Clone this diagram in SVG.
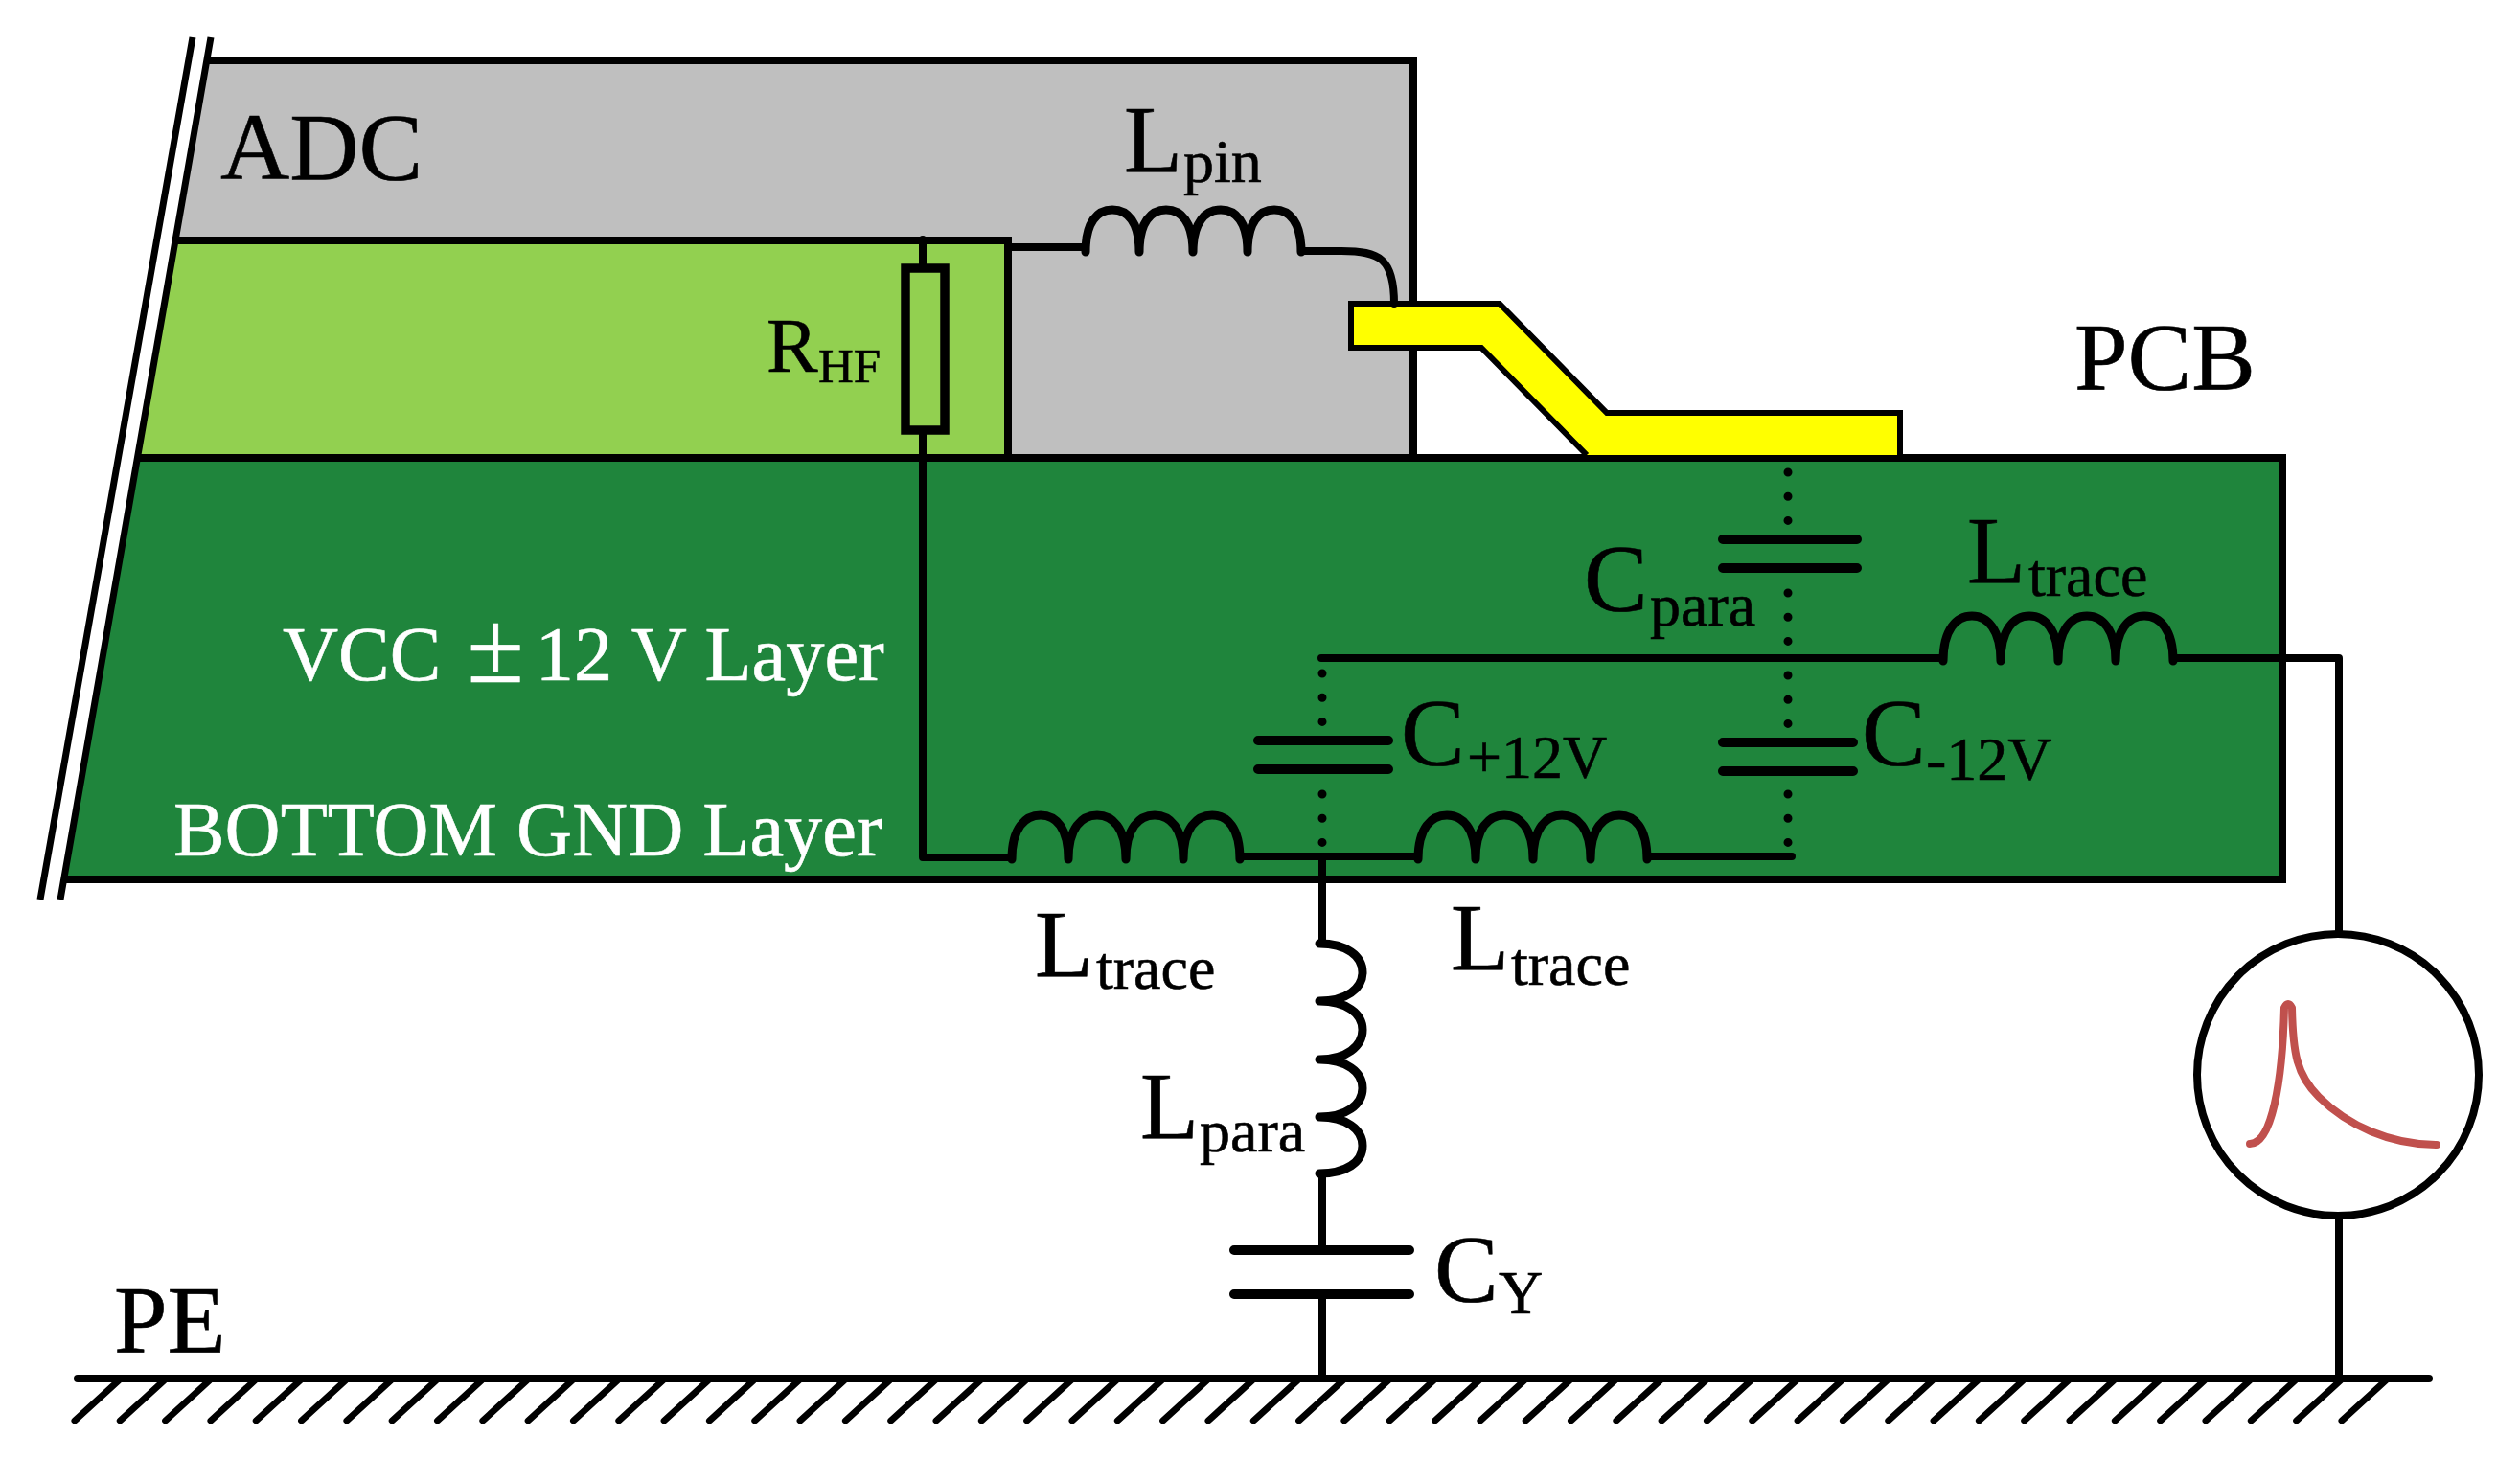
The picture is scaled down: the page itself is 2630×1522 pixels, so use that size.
<svg xmlns="http://www.w3.org/2000/svg" width="2630" height="1522" viewBox="0 0 2630 1522">
<style>
text{font-family:"Liberation Serif","Times New Roman",serif;fill:#000;stroke:#000;stroke-width:.6}
.big{font-size:100px}
.mid{font-size:80.4px}
.sub{font-size:64px}
.w{fill:#fff;stroke:#fff}
.ln{fill:none;stroke:#000;stroke-width:8;stroke-linecap:round;stroke-linejoin:round}
.coil{fill:none;stroke:#000;stroke-width:9;stroke-linecap:round;stroke-linejoin:round}
.plate{fill:none;stroke:#000;stroke-width:10;stroke-linecap:round}
.dot{fill:none;stroke:#000;stroke-width:9;stroke-linecap:round;stroke-dasharray:0 25.2}
.thin{fill:none;stroke:#000;stroke-width:7}
</style>
<rect width="2630" height="1522" fill="#fff"/>
<g id="adc-body">
<polygon points="216,63 1475,63 1475,478 143,478" fill="#BFBFBF"/>
<path d="M216 63H1475V478" fill="none" stroke="#000" stroke-width="8"/>
</g>
<g id="adc-die">
<polygon points="184,251 1052,251 1052,478 143,478" fill="#92D050"/>
<path d="M184 251H1052V478" fill="none" stroke="#000" stroke-width="8"/>
</g>
<g id="pcb">
<polygon points="143,478 2382,478 2382,918 67,918" fill="#1F853C"/>
<path d="M143 478H2382V918H67" fill="none" stroke="#000" stroke-width="8"/>
</g>
<g id="break-lines">
<path class="thin" d="M201 39L42 939M220 39L63 939"/>
</g>
<g id="pin">
<path d="M1656 475L1546 363H1410V317H1565L1677 431H1983V475Z" fill="#FFFF00"/>
<path d="M1656 475L1546 363H1410V317H1565L1677 431H1983V475" fill="none" stroke="#000" stroke-width="6"/>
</g>
<g id="connectors">
<path class="ln" d="M1052 258H1133M1358 262H1400C1440 262 1455 270 1455 317"/>
<path class="ln" d="M963 250V895H1056M1294 894H1480M1719 894H1870"/>
<path class="ln" d="M1379 687H2028M2268 687H2441V975"/>
<path class="ln" d="M1380 894V985M1380 1225V1305M1380 1351V1439M2441 1270V1439"/>
<path class="dot" d="M1866 493V560M1866 619V675M1866 705V760M1866 829V885"/>
<path class="dot" d="M1380 703V760M1380 829V885"/>
</g>
<g id="r-hf">
<rect x="945" y="280" width="41" height="169" fill="#92D050" stroke="#000" stroke-width="9.5"/>
</g>
<g id="l-pin">
<path class="coil" d="M1133 263C1133 232 1145 219 1161 219S1189 232 1189 263C1189 232 1201 219 1217 219S1245 232 1245 263C1245 232 1258 219 1274 219S1302 232 1302 263C1302 232 1314 219 1330 219S1358 232 1358 263"/>
</g>
<g id="l-trace-1">
<path class="coil" d="M1056 897C1056 864 1070 851 1086 851S1115 864 1115 897C1115 864 1129 851 1145 851S1175 864 1175 897C1175 864 1189 851 1205 851S1235 864 1235 897C1235 864 1249 851 1265 851S1294 864 1294 897"/>
</g>
<g id="l-trace-2">
<path class="coil" d="M1480 897C1480 864 1494 851 1510 851S1540 864 1540 897C1540 864 1554 851 1570 851S1600 864 1600 897C1600 864 1614 851 1630 851S1660 864 1660 897C1660 864 1674 851 1690 851S1719 864 1719 897"/>
</g>
<g id="l-trace-3">
<path class="coil" d="M2028 690C2028 657 2042 643 2058 643S2088 657 2088 690C2088 657 2102 643 2118 643S2148 657 2148 690C2148 657 2162 643 2178 643S2208 657 2208 690C2208 657 2222 643 2238 643S2268 657 2268 690"/>
</g>
<g id="l-para">
<path class="coil" d="M1377 985C1405 985 1422 998 1422 1015S1405 1045 1377 1045C1405 1045 1422 1058 1422 1075S1405 1106 1377 1106C1405 1106 1422 1119 1422 1136S1405 1166 1377 1166C1405 1166 1422 1179 1422 1196S1405 1225 1377 1225"/>
</g>
<g id="c-para"><path class="plate" d="M1798 563H1938M1798 593H1938"/></g>
<g id="c-plus"><path class="plate" d="M1313 773H1449M1313 803H1449"/></g>
<g id="c-minus"><path class="plate" d="M1798 775H1934M1798 805H1934"/></g>
<g id="c-y"><path class="plate" d="M1288 1305H1471M1288 1351H1471"/></g>
<g id="meter">
<circle cx="2440" cy="1122" r="147" fill="#fff" stroke="#000" stroke-width="8"/>
<path d="M2348 1194C2371 1194 2382 1130 2384 1052Q2388 1044 2392 1052C2393 1100 2397 1122 2420 1145C2450 1175 2495 1195 2543 1195" fill="none" stroke="#C0504D" stroke-width="8" stroke-linecap="round" stroke-linejoin="round"/>
</g>
<g id="ground">
<path d="M78 1483l46-42m1.32 42l46-42m1.32 42l46-42m1.32 42l46-42m1.32 42l46-42m1.32 42l46-42m1.32 42l46-42m1.32 42l46-42m1.32 42l46-42m1.32 42l46-42m1.32 42l46-42m1.32 42l46-42m1.32 42l46-42m1.32 42l46-42m1.32 42l46-42m1.32 42l46-42m1.32 42l46-42m1.32 42l46-42m1.32 42l46-42m1.32 42l46-42m1.32 42l46-42m1.32 42l46-42m1.32 42l46-42m1.32 42l46-42m1.32 42l46-42m1.32 42l46-42m1.32 42l46-42m1.32 42l46-42m1.32 42l46-42m1.32 42l46-42m1.32 42l46-42m1.32 42l46-42m1.32 42l46-42m1.32 42l46-42m1.32 42l46-42m1.32 42l46-42m1.32 42l46-42m1.32 42l46-42m1.32 42l46-42m1.32 42l46-42m1.32 42l46-42m1.32 42l46-42m1.32 42l46-42m1.32 42l46-42m1.32 42l46-42m1.32 42l46-42m1.32 42l46-42m1.32 42l46-42m1.32 42l46-42m1.32 42l46-42m1.32 42l46-42" fill="none" stroke="#000" stroke-width="7" stroke-linecap="round"/>
<path class="ln" d="M81 1439H2535"/>
</g>
<g id="labels">
<text class="big" x="230" y="187">ADC</text>
<text class="big" x="2165" y="406">PCB</text>
<text class="big" x="119" y="1411">PE</text>
<text class="mid" x="800" y="388">R<tspan style="font-size:51px" x="854" y="399">HF</tspan></text>
<text class="mid w" x="295" y="710">VCC <tspan dx="7" dy="2" style="font-size:108px">±</tspan><tspan dx="12" dy="-2">12 </tspan><tspan dx="1">V Layer</tspan></text>
<text class="mid w" x="181" y="893">BOTTOM GND Layer</text>
<text class="big" x="1173" y="179">L<tspan class="sub" x="1235" y="190">pin</tspan></text>
<text class="big" x="1653" y="637">C<tspan class="sub" x="1722" y="653">para</tspan></text>
<text class="big" x="2053" y="608">L<tspan class="sub" x="2117" y="622">trace</tspan></text>
<text class="big" x="1462" y="798">C<tspan class="sub" x="1531" y="812">+12V</tspan></text>
<text class="big" x="1943" y="798">C<tspan class="sub" x="2010" y="814">-12V</tspan></text>
<text class="big" x="1080" y="1019">L<tspan class="sub" x="1144" y="1032">trace</tspan></text>
<text class="big" x="1514" y="1012">L<tspan class="sub" x="1577" y="1028">trace</tspan></text>
<text class="big" x="1190" y="1188">L<tspan class="sub" x="1252" y="1202">para</tspan></text>
<text class="big" x="1497" y="1358">C<tspan class="sub" x="1564" y="1371">Y</tspan></text>
</g>
</svg>
